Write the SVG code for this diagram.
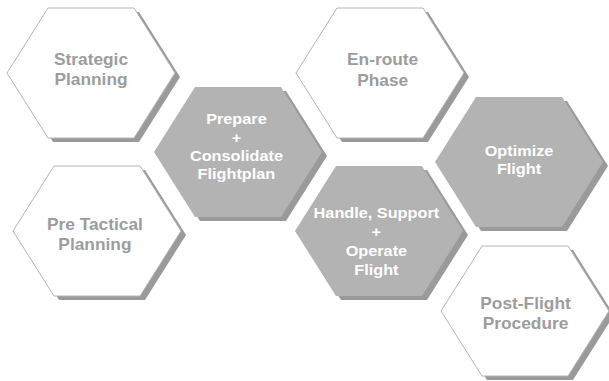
<svg xmlns="http://www.w3.org/2000/svg" xmlns:xlink="http://www.w3.org/1999/xlink" width="609" height="381" viewBox="0 0 609 381">
  <style>
    .shadow { fill: #9a9a9a; }
    .open { fill: #ffffff; stroke: #b4b4b4; stroke-width: 1; }
    .solid { fill: #b3b3b3; }
    .lbl { font-family: "Liberation Sans", Arial, sans-serif; font-weight: bold; text-anchor: middle; }
    .lbl-open { fill: #9c9c9c; font-size: 16.5px; }
    .lbl-solid { fill: #ffffff; font-size: 15.5px; }
  </style>
  <defs>
    <!-- wide flat-topped hexagon centred on the origin -->
    <polygon id="hex" points="-84,0 -43,-65 43,-65 84,0 43,65 -43,65"/>
  </defs>
  <rect width="609" height="381" fill="#ffffff"/>

  <g id="strategic-planning" transform="translate(91,73)">
    <use xlink:href="#hex" href="#hex" class="shadow" x="5" y="4"/>
    <use xlink:href="#hex" href="#hex" class="open"/>
    <g class="lbl lbl-open" transform="scale(1.05,1)">
      <text x="0" y="-8">Strategic</text>
      <text x="0" y="12">Planning</text>
    </g>
  </g>

  <g id="pre-tactical-planning" transform="translate(97,231)">
    <use xlink:href="#hex" href="#hex" class="shadow" x="5" y="4"/>
    <use xlink:href="#hex" href="#hex" class="open"/>
    <g class="lbl lbl-open" transform="scale(1.05,1)">
      <text x="-2" y="-1">Pre Tactical</text>
      <text x="-2" y="19">Planning</text>
    </g>
  </g>

  <g id="prepare-consolidate" transform="translate(238,152)">
    <use xlink:href="#hex" href="#hex" class="shadow" x="5" y="4"/>
    <use xlink:href="#hex" href="#hex" class="solid"/>
    <g class="lbl lbl-solid" transform="scale(1.05,1)">
      <text x="-1.5" y="-28">Prepare</text>
      <text x="-1.5" y="-9.5">+</text>
      <text x="-1.5" y="9">Consolidate</text>
      <text x="-1.5" y="27.5">Flightplan</text>
    </g>
  </g>

  <g id="en-route-phase" transform="translate(380,73)">
    <use xlink:href="#hex" href="#hex" class="shadow" x="5" y="4"/>
    <use xlink:href="#hex" href="#hex" class="open"/>
    <g class="lbl lbl-open" transform="scale(1.05,1)">
      <text x="2.5" y="-8">En-route</text>
      <text x="2.5" y="13">Phase</text>
    </g>
  </g>

  <g id="handle-support-operate" transform="translate(379,231)">
    <use xlink:href="#hex" href="#hex" class="shadow" x="5" y="4"/>
    <use xlink:href="#hex" href="#hex" class="solid"/>
    <g class="lbl lbl-solid" transform="scale(1.05,1)">
      <text x="-2.5" y="-13">Handle, Support</text>
      <text x="-2.5" y="6">+</text>
      <text x="-2.5" y="25">Operate</text>
      <text x="-2.5" y="44">Flight</text>
    </g>
  </g>

  <g id="optimize-flight" transform="translate(519,162)">
    <use xlink:href="#hex" href="#hex" class="shadow" x="5" y="4"/>
    <use xlink:href="#hex" href="#hex" class="solid"/>
    <g class="lbl lbl-solid" transform="scale(1.05,1)">
      <text x="0" y="-6">Optimize</text>
      <text x="0" y="12">Flight</text>
    </g>
  </g>

  <g id="post-flight-procedure" transform="translate(525,311)">
    <use xlink:href="#hex" href="#hex" class="shadow" x="5" y="4"/>
    <use xlink:href="#hex" href="#hex" class="open"/>
    <g class="lbl lbl-open" transform="scale(1.05,1)">
      <text x="0.5" y="-2">Post-Flight</text>
      <text x="0.5" y="18">Procedure</text>
    </g>
  </g>
</svg>
